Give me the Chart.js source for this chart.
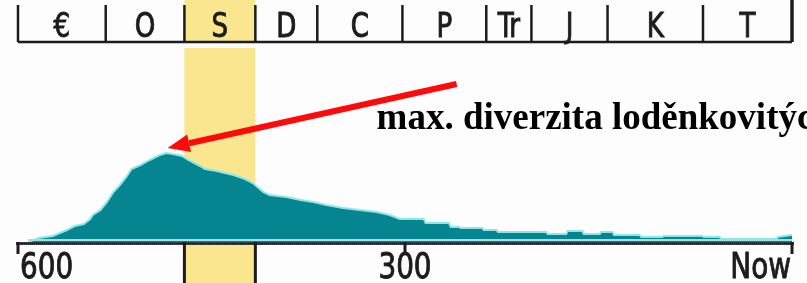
<!DOCTYPE html>
<html><head><meta charset="utf-8">
<script src="https://cdn.jsdelivr.net/npm/chart.js@4/dist/chart.umd.min.js"></script>
<style>html,body{margin:0;padding:0;background:#fdfdfd;overflow:hidden}#wrap{width:807px;height:283px;position:relative}</style>
</head><body><div id="wrap"><canvas id="c" width="807" height="283"></canvas></div>
<script>
// ---- data ----
const ages = [592,584,573,562,556,549,544,542,536,531,526,521,516,512,505,498,490,485,480,473,468,459,455,446,433,424,418,410,405,392,381,371,361,348,335,322,312,
  304,285.5,284,266,264.5,258,257,240,239,229,228,190.5,189.5,175,174,162.5,161.5,149,148,139,138,118,117,100.5,99.5,69.5,68.5,56,55,12,11,0];
const diversity = [0,4,6,12,16,18,23,27,32,40,50,57,65,73,77,82,87,89,88,86,82,76,73,71,67,63,59,50,47,45,42,40,37,34,32,30,27,
  23,23,19,19,15,15,14,14,12,12,10,10,8,8,11,11,8,8,10,10,7,7,5,5,6,6,5,5,3,3,5,7];
const periodNames = ['€','O','S','D','C','P','Tr','J','K','T'];
const periodBounds = [600,532,471,416,368,302,237,202,143,69,0];
const highlightPeriod = 'S';
const axisTicks = [600,300,0];
const axisTickLabels = ['600','300','Now'];
const annotationText = 'max. diverzita loděnkovitých';
const arrowFrom = [260,158];
const arrowTo = [484,94];
const textAt = [322,113];

const SANS = '"DejaVu Sans Condensed","Liberation Sans Narrow",sans-serif';
const INK = '#1c1c1c';

function sText(ctx, t, x, y, align, sx){
  ctx.save(); ctx.translate(x,y); ctx.scale(sx,1);
  ctx.textAlign=align; ctx.textBaseline='alphabetic';
  ctx.fillText(t,0,0); ctx.lineWidth=0.9; ctx.strokeText(t,0,0);
  ctx.restore();
}

const decor = {
  id:'decor',
  beforeDraw(chart){
    const {ctx, scales:{x}, chartArea:ca} = chart;
    ctx.save();
    ctx.fillStyle='#fdfdfd'; ctx.fillRect(0,0,chart.width,chart.height);
    const hi = periodNames.indexOf(highlightPeriod);
    const x1 = x.getPixelForValue(periodBounds[hi]), x2 = x.getPixelForValue(periodBounds[hi+1]);
    ctx.fillStyle='#f9e68e';
    ctx.fillRect(x1,0,x2-x1,42);
    ctx.fillRect(x1,ca.top,x2-x1,chart.height-ca.top);
    ctx.restore();
  },
  afterDatasetsDraw(chart){
    const {ctx, scales:{x,y}, chartArea:ca} = chart;
    ctx.save();
    // baseline glow
    ctx.strokeStyle='#8ee6ec'; ctx.lineWidth=2;
    ctx.beginPath(); ctx.moveTo(x.getPixelForValue(ages[0]),ca.bottom-2); ctx.lineTo(ca.right,ca.bottom-2); ctx.stroke();
    // axis line
    ctx.strokeStyle='#3a3a3a'; ctx.lineWidth=3;
    ctx.beginPath(); ctx.moveTo(ca.left-2,ca.bottom+1.5); ctx.lineTo(ca.right+2,ca.bottom+1.5); ctx.stroke();
    ctx.strokeStyle='#111'; ctx.lineWidth=1; ctx.setLineDash([1,1]);
    ctx.beginPath(); ctx.moveTo(ca.left,ca.bottom+1.5); ctx.lineTo(ca.right,ca.bottom+1.5); ctx.stroke();
    ctx.setLineDash([]);
    // short ticks + labels
    ctx.strokeStyle=INK; ctx.fillStyle=INK; ctx.lineWidth=3;
    ctx.font='36px '+SANS;
    axisTicks.forEach((v,i)=>{
      const px = x.getPixelForValue(v);
      ctx.lineWidth=3;
      ctx.beginPath(); ctx.moveTo(px,ca.bottom); ctx.lineTo(px,ca.bottom+12); ctx.stroke();
      const align = i===0 ? 'left' : (i===axisTicks.length-1 ? 'right' : 'center');
      sText(ctx, axisTickLabels[i], px + (i===0?2:(i===axisTicks.length-1?-1:0)), 278, align, 0.86);
    });
    // highlight edges below axis
    const hi = periodNames.indexOf(highlightPeriod);
    ctx.lineWidth=3;
    [periodBounds[hi],periodBounds[hi+1]].forEach(v=>{
      const px = x.getPixelForValue(v);
      ctx.beginPath(); ctx.moveTo(px,ca.bottom); ctx.lineTo(px,chart.height); ctx.stroke();
    });
    // top band
    ctx.lineWidth=2.5; ctx.strokeStyle=INK;
    ctx.beginPath();
    ctx.moveTo(x.getPixelForValue(periodBounds[0]),42); ctx.lineTo(x.getPixelForValue(periodBounds[periodBounds.length-1]),42);
    ctx.stroke();
    periodBounds.forEach((v,i)=>{
      const px = x.getPixelForValue(v);
      ctx.lineWidth = (i===periodBounds.length-1)?3.5:2.5;
      ctx.beginPath(); ctx.moveTo(px,i===periodBounds.length-1?0:5); ctx.lineTo(px,42); ctx.stroke();
    });
    ctx.font='33px '+SANS;
    periodNames.forEach((n,i)=>{
      const px = (x.getPixelForValue(periodBounds[i])+x.getPixelForValue(periodBounds[i+1]))/2;
      sText(ctx, n, px, 37, 'center', 0.88);
    });
    // arrow
    const fx=x.getPixelForValue(arrowFrom[0]), fy=y.getPixelForValue(arrowFrom[1]);
    const tx=x.getPixelForValue(arrowTo[0]), ty=y.getPixelForValue(arrowTo[1]);
    const ang=Math.atan2(ty-fy,tx-fx), hl=22, hw=9;
    const bx=tx-hl*Math.cos(ang), by=ty-hl*Math.sin(ang);
    ctx.strokeStyle='#ff0a0a'; ctx.fillStyle='#ff0a0a'; ctx.lineWidth=6; ctx.lineCap='butt';
    ctx.beginPath(); ctx.moveTo(fx,fy); ctx.lineTo(bx,by); ctx.stroke();
    ctx.beginPath(); ctx.moveTo(tx,ty);
    ctx.lineTo(bx+hw*Math.sin(ang),by-hw*Math.cos(ang));
    ctx.lineTo(bx-hw*Math.sin(ang),by+hw*Math.cos(ang));
    ctx.closePath(); ctx.fill();
    // annotation text
    ctx.fillStyle='#000'; ctx.font='bold 37px "Liberation Serif","Times New Roman",serif';
    ctx.textAlign='left'; ctx.textBaseline='alphabetic';
    ctx.fillText(annotationText,x.getPixelForValue(textAt[0]),y.getPixelForValue(textAt[1]));
    ctx.restore();
  }
};

new Chart(document.getElementById('c'),{
  type:'line',
  data:{datasets:[{
    data: ages.map((a,i)=>({x:a,y:diversity[i]})),
    fill:'origin', backgroundColor:'#05858f', borderColor:'#8ee6ec', borderWidth:2,
    pointRadius:0, tension:0
  }]},
  options:{
    responsive:false, animation:false, devicePixelRatio:1,
    layout:{padding:{left:18,right:15,top:48,bottom:0}},
    plugins:{legend:{display:false},tooltip:{enabled:false}},
    scales:{
      x:{type:'linear',reverse:true,min:0,max:600,
        afterBuildTicks:s=>{ s.ticks = axisTicks.slice().sort((a,b)=>a-b).map(v=>({value:v})); },
        afterFit:s=>{ s.height = 41; },
        grid:{display:false,drawTicks:false}, border:{display:false},
        ticks:{display:false}},
      y:{display:false,min:0,max:194}
    }
  },
  plugins:[decor]
});
</script></body></html>
